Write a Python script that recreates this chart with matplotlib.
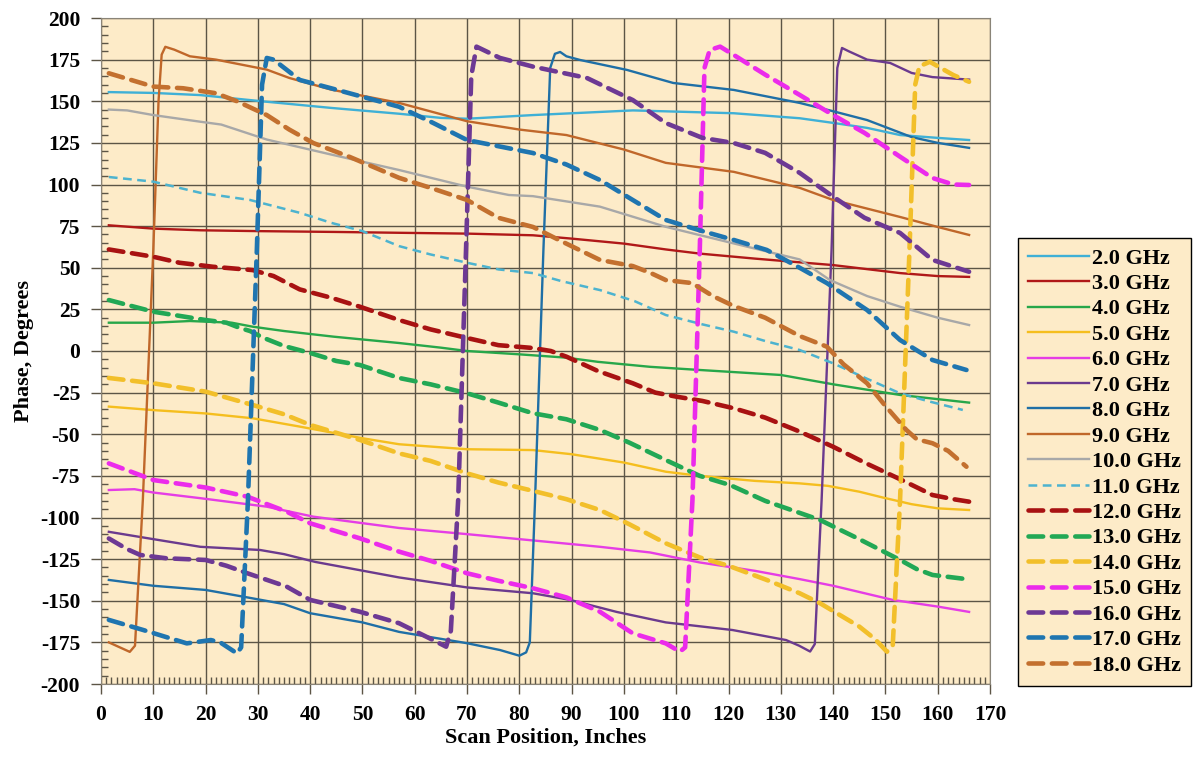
import matplotlib
matplotlib.use("Agg")
from matplotlib import pyplot as plt
from matplotlib.ticker import MultipleLocator

plt.rcParams['font.family'] = ['Liberation Serif', 'DejaVu Serif']
plt.rcParams['font.weight'] = 'bold'
plt.rcParams['axes.unicode_minus'] = False

labels = ["2.0 GHz", "3.0 GHz", "4.0 GHz", "5.0 GHz", "6.0 GHz", "7.0 GHz",
          "8.0 GHz", "9.0 GHz", "10.0 GHz", "11.0 GHz", "12.0 GHz", "13.0 GHz",
          "14.0 GHz", "15.0 GHz", "16.0 GHz", "17.0 GHz", "18.0 GHz"]

# scan position (inches) / phase (degrees)
s2_x = [1.5, 10, 19, 31.7, 44, 57, 65, 70, 82.6, 101.7, 121, 133.6, 140, 146.5, 152.8, 160, 166]
s2_y = [155.5, 155, 153.7, 149.7, 146, 142.5, 140, 139.5, 141.7, 144.5, 142.8, 139.8, 137, 134, 129.7, 128, 126.7]

s3_x = [1.5, 10, 19, 30, 45, 57, 70, 82.6, 90, 100, 108, 114.5, 125, 140, 152.8, 160, 166]
s3_y = [75.5, 73.5, 72.5, 72, 71.5, 71, 70.5, 69.5, 67.5, 64.5, 61, 58.5, 55.5, 51.6, 46.8, 45, 44.5]

s4_x = [1.5, 10, 17, 25, 29, 35, 44.5, 57, 65, 70, 80, 89, 95, 105, 114.5, 130, 140, 152.8, 166]
s4_y = [17, 17, 18, 17, 14.6, 12, 8.6, 4.8, 2, 0, -2, -4, -6.5, -9.5, -11.4, -14.4, -20, -26.4, -31]

s5_x = [1.5, 10, 20, 29, 38, 50, 57, 70, 82.6, 90, 100, 108, 114.5, 125, 133.6, 139, 145, 149.5, 155, 160, 166]
s5_y = [-33.4, -35.5, -37.5, -40.4, -45.4, -52.4, -56, -59, -59.5, -62, -67, -72.5, -75, -78, -79.5, -81,
        -84.5, -88, -92, -94.5, -95.5]

s6_x = [1.5, 6.4, 10, 19, 31.7, 40.6, 57, 70, 80, 95.4, 105, 114.5, 125, 133.6, 140, 151.4, 160, 166]
s6_y = [-83.5, -83, -85, -88.4, -93.5, -99.5, -106.3, -110, -113, -117.6, -121, -127, -132, -137, -141,
        -149.5, -153.5, -156.7]

s7_x = [1.5, 10, 19, 30.4, 35, 41, 57, 70, 82.6, 89.7, 98.6, 108, 120.8, 131, 133.5, 135.6, 136.5,
        137.8, 139.7, 140.8, 141.7, 143, 146.5, 150.9, 155, 159, 166]
s7_y = [-108.6, -113, -117.6, -119.5, -122, -126.7, -136, -142, -145.5, -149.5, -156.7, -163, -167.6,
        -173.6, -177, -180.5, -176, -89.5, 60.6, 170, 182, 180, 175, 173, 167, 164.5, 163]

s8_x = [1.5, 10, 20, 28, 35, 40, 50, 57, 70, 76.3, 80, 81.3, 82, 83, 84.6, 85.9, 86.8, 87.8, 89, 91.6,
        100.6, 109.4, 121, 133.6, 140, 146.5, 155, 160, 166]
s8_y = [-137.5, -141, -143.5, -148, -152, -157.5, -163, -168.7, -175.5, -179.6, -183, -181, -175, -89.5,
        60.6, 170, 178.5, 179.6, 177, 174.8, 168.8, 161, 156.8, 149, 144, 138.7, 128.5, 125, 122]

s9_x = [1.5, 5.5, 6.5, 8, 10, 11, 11.6, 12.3, 14, 17, 22, 31.7, 36, 44, 57, 70, 80, 89, 100, 108, 121,
        133.6, 140, 152.8, 160, 166]
s9_y = [-175, -180.7, -177, -89.5, 60.6, 150, 178, 182.7, 181, 177, 175, 169, 164, 157, 149, 138, 133,
        129.7, 121, 113, 107.6, 98, 90.7, 80.5, 74.5, 69.7]

s10_x = [1.5, 5, 10, 19, 23, 31.7, 44, 57, 70, 78, 82.6, 95.4, 108, 121, 133.6, 139.4, 146.5, 152.8, 160, 166]
s10_y = [145, 144.5, 141.7, 137.7, 136, 127, 118, 108.7, 98.7, 93.7, 93, 86.7, 74.6, 64.6, 55, 42.6, 33,
         26.6, 20, 15.6]

s11_x = [1.5, 10, 19, 28.5, 38, 44, 50, 57, 63, 70, 76, 82.6, 88, 95.4, 102, 108, 115, 121, 127, 133.6,
         140, 146, 152.8, 158, 164.8]
s11_y = [104.5, 101.7, 95, 90.7, 83, 77, 72, 63, 58, 53, 49, 46.8, 42, 36.6, 30, 21.6, 16, 11.6, 6, 0.6,
         -7.4, -16, -25.4, -30, -35.4]

s12_x = [1.5, 10, 15, 21.4, 29, 33, 38, 44, 49.5, 57, 63, 70, 76, 82.6, 86, 89, 95, 101.7, 106, 110, 115,
         121, 127, 133.6, 140, 146, 152.8, 159, 163, 166]
s12_y = [61, 56.6, 53, 50.6, 48.6, 45, 37, 32, 26.6, 18.6, 13, 7.8, 3.5, 1.8, 0, -3.4, -12, -19.4, -25,
         -27.4, -30, -34.4, -40, -48.4, -57.5, -67, -77, -86.5, -89, -90.5]

s13_x = [1.5, 10, 20, 24, 26.6, 28.5, 31, 35, 40, 45, 49.5, 57, 63, 70, 76, 82.6, 89, 95.4, 101, 108,
         114.5, 120.3, 127, 137.5, 145, 152.8, 156, 159, 165.5]
s13_y = [30.6, 23.6, 18.6, 17, 13.8, 12, 8, 3, -1.2, -6, -8.4, -16.2, -20, -25.4, -31, -37.4, -41, -47.4,
         -55, -65.5, -75, -80.5, -90, -101.5, -113, -125.5, -131, -134.5, -137]

s14_x = [1.5, 10, 20, 29, 35, 40, 49.5, 57, 63, 70, 76, 82.6, 89, 95.4, 101, 108, 114.5, 120, 127.3,
         133.6, 137.5, 145, 148, 150.3, 151.4, 152.8, 154.6, 155.7, 156.5, 158.5, 163, 166]
s14_y = [-16.2, -19.4, -24.4, -32.4, -38, -44.4, -53.4, -61.5, -66, -73.5, -79, -84, -89, -95.5, -104,
         -115.5, -124, -129, -137.5, -145.5, -151.5, -165.5, -173, -180.6, -177, -89.5, 60.6, 160, 171,
         173.7, 165.7, 161.7]

s15_x = [1.5, 10, 20, 28, 35.5, 40, 49.5, 57, 63, 70, 76, 82.6, 89, 95.4, 101.7, 108, 110.7, 111.7,
         113.1, 114.5, 115.4, 116.4, 118.4, 121, 127, 133.6, 140, 146, 152.8, 159, 163, 166]
s15_y = [-67.5, -77.5, -82, -87.5, -96.5, -103.5, -112.5, -120.5, -126, -133.5, -138, -142.5, -148,
         -156.6, -169.6, -175.6, -180.6, -178, -89.5, 60.6, 170, 180.8, 182.8, 177.8, 166, 153.8, 141.7,
         131, 116.7, 103.9, 100, 99.7]

s16_x = [1.5, 5, 7.5, 12.5, 20, 24, 28, 35.5, 40, 49.5, 57, 63.5, 66, 66.9, 68.3, 69.8, 70.8, 71.8,
         76.3, 82.6, 92.9, 101.7, 108, 115, 121, 127, 133.6, 140, 146, 152.8, 159, 166]
s16_y = [-112.6, -119, -122.5, -124.5, -125.5, -129, -133.5, -141.5, -149.5, -156.6, -163.5, -173.6,
         -177.6, -168, -89.5, 60.6, 165, 182.8, 176, 170.8, 164, 150.7, 136.9, 128, 124.9, 119, 107,
         92.7, 80, 70.9, 54.7, 47.6]

s17_x = [1.5, 8, 16.4, 21, 22.8, 26, 26.8, 28.1, 29.8, 30.8, 31.7, 33, 38, 44, 57, 63.5, 70, 82.6, 89,
         95.4, 101, 108, 115, 121, 127.3, 133.6, 138.8, 146.5, 152.8, 159, 165.5]
s17_y = [-161.5, -167.5, -175.6, -173.6, -175, -181.6, -178, -89.5, 60.6, 160, 176, 175, 162.8, 157.8,
         146.7, 137, 126.7, 118.9, 112, 102.7, 92, 78.7, 72, 66.7, 60.7, 50, 40.8, 24.6, 6.6, -5.4, -11.4]

s18_x = [1.5, 10, 15.7, 22, 26, 31.7, 36, 40.6, 47.6, 57, 63, 70, 76, 82.6, 88, 95.4, 101.7, 105, 108,
         113, 117, 121, 127, 133.6, 138.8, 142, 146.5, 150, 154, 156, 159, 162, 165.5]
s18_y = [166.8, 158.8, 157.8, 154.8, 150, 141.7, 133, 124.9, 116.5, 104, 98, 90.7, 80, 74.5, 66, 54.7, 51,
         47, 42.6, 40.8, 33, 27, 20, 9, 2.6, -8, -19.4, -33, -47.4, -53, -55.4, -60, -69.5]

xs = [s2_x, s3_x, s4_x, s5_x, s6_x, s7_x, s8_x, s9_x, s10_x, s11_x,
      s12_x, s13_x, s14_x, s15_x, s16_x, s17_x, s18_x]
ys = [s2_y, s3_y, s4_y, s5_y, s6_y, s7_y, s8_y, s9_y, s10_y, s11_y,
      s12_y, s13_y, s14_y, s15_y, s16_y, s17_y, s18_y]

colors = ["#3FB0D6", "#B01818", "#27A74A", "#F5BE1E", "#E53DE5", "#6B3A8E",
          "#1F6FA6", "#C0672A", "#A8A8A8", "#4DB3CF", "#A81212", "#22A855",
          "#F2BF2A", "#EB2BEB", "#6D3994", "#1F75B0", "#C3702F"]

bg = "#FDEBC8"

fig = plt.figure(figsize=(11.96, 7.58), dpi=100)
ax = fig.add_axes([101 / 1196, 1 - 684 / 758, 889 / 1196, 666 / 758])
ax.set_facecolor(bg)

for i in range(len(labels)):
    if i < 9:
        ax.plot(xs[i], ys[i], color=colors[i], lw=1.7, label=labels[i], solid_joinstyle='round')
    elif i == 9:
        ax.plot(xs[i], ys[i], color=colors[i], lw=1.8, dashes=(3.5, 2.2), label=labels[i])
    else:
        ax.plot(xs[i], ys[i], color=colors[i], lw=3.3, dashes=(3.2, 1.9), label=labels[i],
                dash_capstyle='round')

ax.set_xlim(0, 170)
ax.set_ylim(-200, 200)
ax.xaxis.set_major_locator(MultipleLocator(10))
ax.xaxis.set_minor_locator(MultipleLocator(1))
ax.yaxis.set_major_locator(MultipleLocator(25))
ax.yaxis.set_minor_locator(MultipleLocator(5))
ax.grid(True, which='major', color='#5C5546', lw=1.0)
ax.set_axisbelow(True)
ax.tick_params(which='major', direction='out', length=7, width=1, color='#5C5546',
               labelsize=15.5, pad=8)
ax.tick_params(which='minor', direction='in', length=5, width=1, color='#5C5546')
for lab in ax.get_xticklabels() + ax.get_yticklabels():
    lab.set_fontweight('bold')
for sp in ax.spines.values():
    sp.set_color('#8A8478')

ax.set_xlabel("Scan Position, Inches", fontsize=16, fontweight='bold', labelpad=2)
ax.set_ylabel("Phase, Degrees", fontsize=16, fontweight='bold', labelpad=5)

leg = fig.legend(loc='upper left', bbox_to_anchor=(1018 / 1196, 1 - 238 / 758),
                 bbox_transform=fig.transFigure, fontsize=16, frameon=True, fancybox=False,
                 facecolor=bg, edgecolor='black', framealpha=1, handlelength=2.75,
                 handletextpad=0.15, labelspacing=0.22, borderpad=0.45, borderaxespad=0)
leg.get_frame().set_linewidth(1.0)
for t in leg.get_texts():
    t.set_fontweight('bold')

fig.savefig("out.png", dpi=100)
